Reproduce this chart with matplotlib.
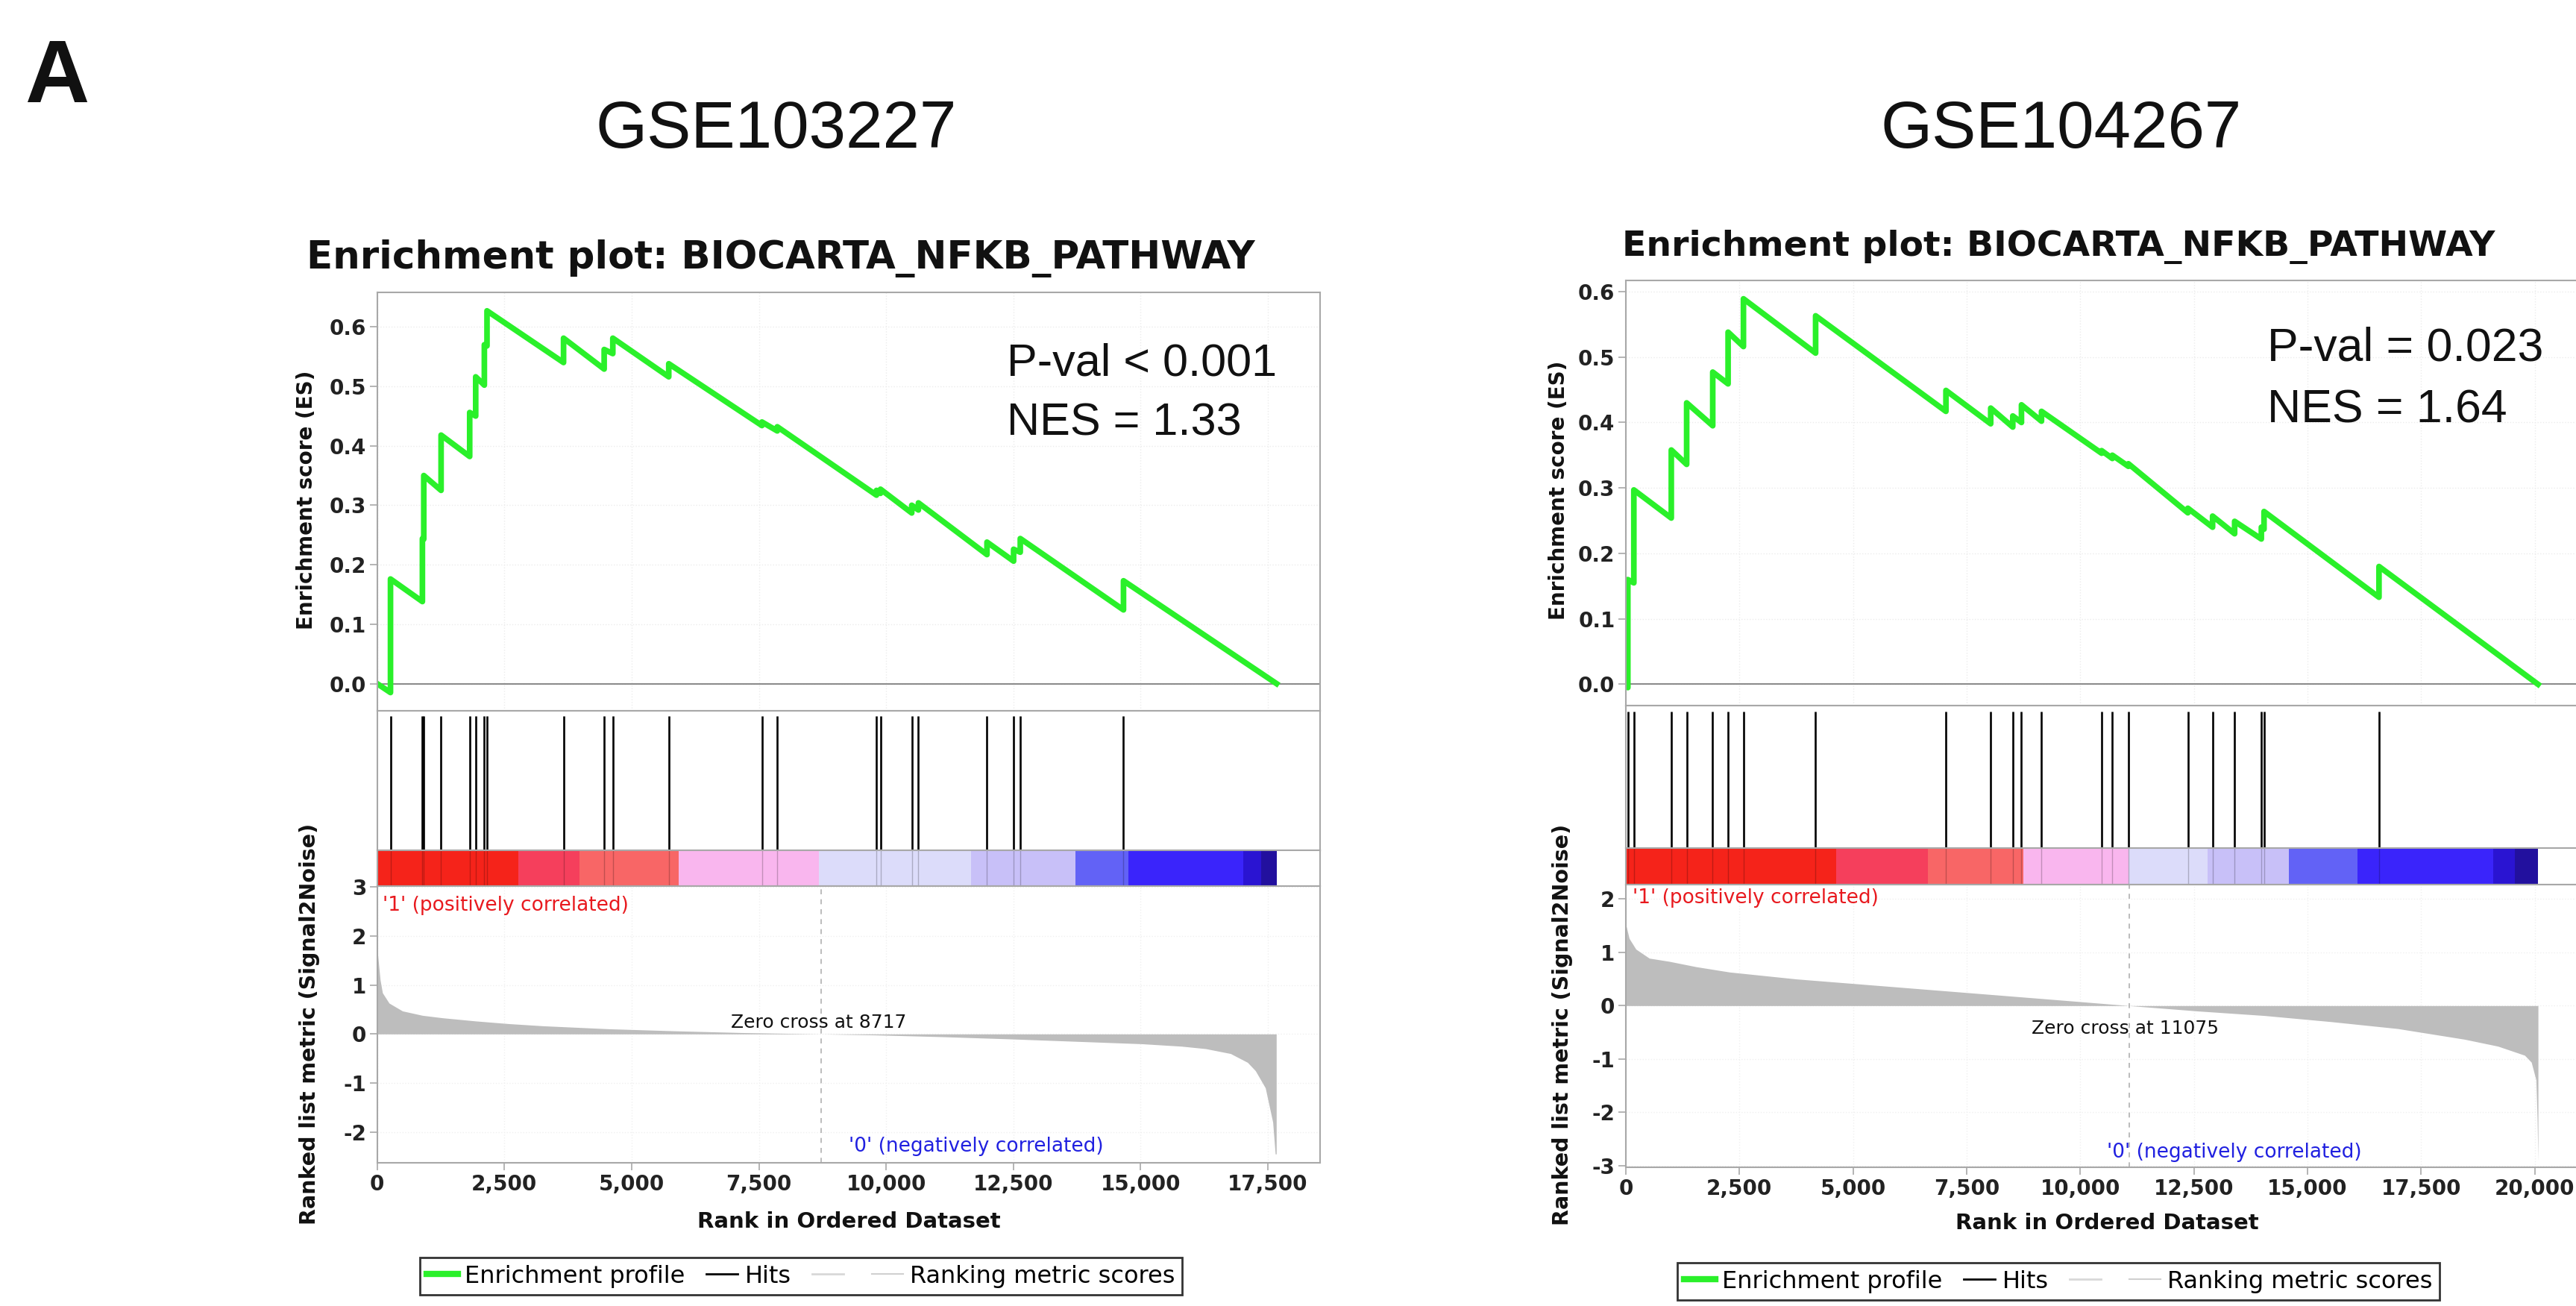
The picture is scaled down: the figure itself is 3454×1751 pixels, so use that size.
import numpy as np
import matplotlib
matplotlib.use("Agg")
import matplotlib.pyplot as plt
from matplotlib.lines import Line2D

W, H, DPI = 3455, 1751, 100

# ---------------- data ----------------
panel_titles = ["GSE103227", "GSE104267"]
plot_title = "Enrichment plot: BIOCARTA_NFKB_PATHWAY"
left_stats = ["P-val < 0.001", "NES = 1.33"]
right_stats = ["P-val = 0.023", "NES = 1.64"]
left_zero_cross = 8717
right_zero_cross = 11075

left_hits = [262, 889, 916, 1256, 1818, 1936, 2106, 2158, 3662, 4460, 4630, 5729,
             7560, 7861, 9810, 9889, 10503, 10634, 11981, 12504, 12635, 14663]
left_es_rank = [0, 262, 262, 889, 889, 916, 916, 1256, 1256, 1818, 1818, 1936, 1936,
                2106, 2106, 2158, 2158, 3662, 3662, 4460, 4460, 4630, 4630, 5729, 5729,
                7560, 7560, 7861, 7861, 9810, 9810, 9889, 9889, 10503, 10503, 10634, 10634,
                11981, 11981, 12504, 12504, 12635, 12635, 14663, 14663, 17670]
left_es_value = [0.0, -0.015, 0.176, 0.138, 0.244, 0.243, 0.350, 0.325, 0.418, 0.382, 0.456,
                 0.450, 0.516, 0.502, 0.570, 0.568, 0.627, 0.540, 0.581, 0.529, 0.562, 0.555,
                 0.581, 0.516, 0.538, 0.434, 0.440, 0.425, 0.432, 0.317, 0.325, 0.320, 0.327,
                 0.287, 0.300, 0.292, 0.304, 0.217, 0.238, 0.206, 0.226, 0.221, 0.244, 0.124,
                 0.173, 0.0]
left_metric_rank = [0, 60, 105, 235, 497, 889, 1282, 1936, 2590, 3244, 4552, 5860, 7168, 8717,
                    9784, 11092, 12400, 13708, 15016, 15800, 16278, 16766, 17100, 17255, 17450,
                    17596, 17645, 17665]
left_metric_value = [1.74, 1.10, 0.84, 0.63, 0.47, 0.38, 0.33, 0.265, 0.21, 0.167, 0.105, 0.063,
                     0.028, 0.0, -0.02, -0.056, -0.10, -0.15, -0.20, -0.25, -0.30, -0.40, -0.58,
                     -0.75, -1.10, -1.80, -2.45, -2.45]
left_bar_edges = [0, 2777, 3982, 5917, 8672, 11665, 13712, 14760, 17015, 17374, 17670]

right_hits = [44, 176, 1000, 1338, 1912, 2250, 2588, 4176, 7044, 8029, 8515, 8706, 9147,
              10470, 10706, 11059, 12368, 12912, 13397, 13985, 14044, 16574]
right_es_rank = [0, 44, 44, 176, 176, 1000, 1000, 1338, 1338, 1912, 1912, 2250, 2250, 2588,
                 2588, 4176, 4176, 7044, 7044, 8029, 8029, 8515, 8515, 8706, 8706, 9147, 9147,
                 10470, 10470, 10706, 10706, 11059, 11059, 12368, 12368, 12912, 12912, 13397,
                 13397, 13985, 13985, 14044, 14044, 16574, 16574, 20074]
right_es_value = [0.0, -0.005, 0.160, 0.155, 0.297, 0.254, 0.358, 0.336, 0.430, 0.395, 0.477,
                  0.459, 0.538, 0.516, 0.589, 0.506, 0.563, 0.417, 0.449, 0.398, 0.422, 0.393,
                  0.410, 0.400, 0.427, 0.402, 0.417, 0.353, 0.357, 0.345, 0.350, 0.333, 0.337,
                  0.262, 0.269, 0.240, 0.257, 0.230, 0.249, 0.222, 0.240, 0.237, 0.264, 0.133,
                  0.180, 0.0]
right_metric_rank = [0, 74, 221, 515, 956, 1544, 2279, 3750, 5221, 6691, 8162, 9632, 11075,
                     12574, 14044, 15515, 16985, 18456, 19191, 19779, 19926, 20029, 20055, 20074]
right_metric_value = [1.52, 1.26, 1.06, 0.89, 0.83, 0.73, 0.63, 0.50, 0.40, 0.30, 0.20, 0.10,
                      0.0, -0.10, -0.185, -0.30, -0.43, -0.63, -0.76, -0.93, -1.06, -1.39,
                      -2.10, -2.91]
right_bar_edges = [0, 4632, 6647, 8750, 11059, 12794, 14588, 16103, 19088, 19559, 20074]

bar_colors = ["#f5231a", "#f53f5c", "#f86666", "#f9b6ee", "#dcdcfa", "#c8c0f8",
              "#6262f6", "#3a24fb", "#2a14d2", "#22109e"]

left_xticks = [0, 2500, 5000, 7500, 10000, 12500, 15000, 17500]
right_xticks = [0, 2500, 5000, 7500, 10000, 12500, 15000, 17500, 20000]
es_yticks = [0.0, 0.1, 0.2, 0.3, 0.4, 0.5, 0.6]
left_metric_yticks = [-2, -1, 0, 1, 2, 3]
right_metric_yticks = [-3, -2, -1, 0, 1, 2]
legend_labels = ["Enrichment profile", "Hits", "", "Ranking metric scores"]

# ---------------- style ----------------
GREEN = "#2af02a"
SPINE = "#a8a8a8"
GRAYFILL = "#bdbdbd"
TICKFONT = dict(family="DejaVu Sans", weight="bold", size=20)

fig = plt.figure(figsize=(W / DPI, H / DPI), dpi=DPI)
fig.patch.set_facecolor("white")


def add_ax(x0, x1, y0, y1):
    return fig.add_axes([x0 / W, 1 - y1 / H, (x1 - x0) / W, (y1 - y0) / H])


def style(ax):
    for s in ax.spines.values():
        s.set_color(SPINE)
        s.set_linewidth(1.5)
    ax.tick_params(colors=SPINE, labelcolor="#222222", length=7, width=1.2)


def draw_panel(g):
    xmax = g["xmax"]
    # enrichment score
    ax = add_ax(g["x0"], g["x1"], g["es"][0], g["es"][1])
    style(ax)
    ax.plot(g["es_rank"], g["es_value"], color=GREEN, lw=5.5)
    ax.axhline(0, color="#8c8c8c", lw=1.5, zorder=1)
    ax.set_xlim(0, xmax)
    ax.set_ylim(*g["es_ylim"])
    ax.set_xticks(g["xticks"])
    ax.tick_params(axis="x", labelbottom=False, length=0)
    ax.set_yticks(es_yticks)
    ax.set_yticklabels([f"{v:.1f}" for v in es_yticks], fontdict=TICKFONT)
    ax.grid(True, color="#ececec", ls=":", lw=1)
    ax.set_axisbelow(True)
    for i, line in enumerate(g["stats"]):
        fig.text(g["stats_x"] / W, 1 - (g["stats_y"] + i * g["stats_dy"]) / H, line,
                 family="Liberation Sans", size=g["stats_size"], ha="left", va="baseline",
                 color="#111111")
    # hits
    ah = add_ax(g["x0"], g["x1"], g["es"][1], g["bar"][0])
    style(ah)
    ah.vlines(g["hits"], 0, 0.96, color="black", lw=1.9)
    ah.set_xlim(0, xmax)
    ah.set_ylim(0, 1)
    ah.set_xticks([])
    ah.set_yticks([])
    # colour bar
    ab = add_ax(g["x0"], g["x1"], g["bar"][0], g["bar"][1])
    style(ab)
    edges = np.array(g["bar_edges"])
    ab.bar(edges[:-1], 1, width=np.diff(edges), align="edge", color=bar_colors, lw=0)
    ab.vlines(g["hits"], 0, 1, color="black", lw=1.0, alpha=0.22)
    ab.set_xlim(0, xmax)
    ab.set_ylim(0, 1)
    ab.set_xticks([])
    ab.set_yticks([])
    # ranked list metric
    ar = add_ax(g["x0"], g["x1"], g["bar"][1], g["rank_bottom"])
    style(ar)
    ar.fill_between(g["m_rank"], 0, g["m_value"], color=GRAYFILL, lw=0)
    ar.axvline(g["zero"], color="#b0b0b0", ls=(0, (4, 4)), lw=1.2)
    ar.set_xlim(0, xmax)
    ar.set_ylim(*g["m_ylim"])
    ar.set_yticks(g["m_yticks"])
    ar.set_yticklabels([str(v) for v in g["m_yticks"]], fontdict=TICKFONT)
    ar.set_xticks(g["xticks"])
    ar.set_xticklabels([f"{v:,}" for v in g["xticks"]], fontdict=TICKFONT)
    ar.grid(True, color="#f0f0f0", ls=":", lw=1)
    ar.set_axisbelow(True)
    ar.text(g["pos_xy"][0], g["pos_xy"][1], "'1' (positively correlated)", color="#e8191e",
            size=19, ha="left", va="center")
    ar.text(g["neg_xy"][0], g["neg_xy"][1], "'0' (negatively correlated)", color="#2020e0",
            size=19, ha="left", va="center")
    ar.text(g["zc_xy"][0], g["zc_xy"][1], f"Zero cross at {g['zero']}", color="#111111",
            size=18, ha="center", va="center")
    # labels & titles
    fig.text(g["title_x"] / W, 1 - g["title_y"] / H, plot_title, family="DejaVu Sans",
             weight="bold", size=g["title_size"], ha="center", va="center", color="#111111")
    fig.text(g["esl_x"] / W, 1 - g["esl_y"] / H, "Enrichment score (ES)", family="DejaVu Sans",
             weight="bold", size=20, rotation=90, ha="center", va="center", color="#111111")
    fig.text(g["rl_x"] / W, 1 - g["rl_y"] / H, "Ranked list metric (Signal2Noise)",
             family="DejaVu Sans", weight="bold", size=20.5, rotation=90, ha="center",
             va="center", color="#111111")
    fig.text(g["xl_x"] / W, 1 - g["xl_y"] / H, "Rank in Ordered Dataset", family="DejaVu Sans",
             weight="bold", size=21, ha="center", va="center", color="#111111")
    fig.text(g["gse_x"] / W, 1 - g["gse_y"] / H, g["gse"], family="Liberation Sans",
             size=64, ha="center", va="baseline", color="#111111")
    # legend
    handles = [Line2D([], [], color=GREEN, lw=6), Line2D([], [], color="black", lw=2),
               Line2D([], [], color="#d8d8d8", lw=2), Line2D([], [], color="#d0d0d0", lw=1.5)]
    leg = fig.legend(handles, legend_labels, ncol=4, loc="center",
                     bbox_to_anchor=(g["leg_x"] / W, 1 - g["leg_y"] / H), frameon=True,
                     fancybox=False, edgecolor="black", prop=dict(family="DejaVu Sans", size=23),
                     handlelength=1.3, handletextpad=0.3, columnspacing=0.9, borderpad=0.3,
                     borderaxespad=0)
    leg.get_frame().set_linewidth(2.0)


left_geo = dict(
    x0=505.7, x1=1770, es=(392, 953), bar=(1140, 1188), rank_bottom=1559, xmax=18525,
    es_rank=left_es_rank, es_value=left_es_value, hits=left_hits, m_rank=left_metric_rank,
    m_value=left_metric_value, bar_edges=left_bar_edges, zero=left_zero_cross,
    xticks=left_xticks, es_ylim=(-0.0457, 0.658), m_ylim=(-2.63, 3.02),
    m_yticks=left_metric_yticks, stats=left_stats, stats_x=1350, stats_y=503, stats_dy=81,
    stats_size=44, pos_xy=(110, 2.62), neg_xy=(9260, -2.30), zc_xy=(8672, 0.23),
    title_x=1047, title_y=347, title_size=37, esl_x=411, esl_y=670, rl_x=415, rl_y=1373,
    xl_x=1138, xl_y=1638, gse="GSE103227", gse_x=1041, gse_y=198, leg_x=1074, leg_y=1711)

right_geo = dict(
    x0=2180, x1=3470, es=(376, 946), bar=(1137, 1186), rank_bottom=1565, xmax=21172,
    es_rank=right_es_rank, es_value=right_es_value, hits=right_hits, m_rank=right_metric_rank,
    m_value=right_metric_value, bar_edges=right_bar_edges, zero=right_zero_cross,
    xticks=right_xticks, es_ylim=(-0.0325, 0.617), m_ylim=(-3.03, 2.27),
    m_yticks=right_metric_yticks, stats=right_stats, stats_x=3040, stats_y=484, stats_dy=82,
    stats_size=45, pos_xy=(150, 2.02), neg_xy=(10590, -2.75), zc_xy=(10993, -0.43),
    title_x=2760, title_y=331, title_size=34, esl_x=2090, esl_y=657, rl_x=2095, rl_y=1374,
    xl_x=2825, xl_y=1640, gse="GSE104267", gse_x=2764, gse_y=198, leg_x=2760, leg_y=1718)

draw_panel(left_geo)
draw_panel(right_geo)

fig.text(33 / W, 1 - 137 / H, "A", family="Liberation Sans", weight="bold", size=86,
         ha="left", va="baseline", color="#111111")

fig.savefig("out.png", dpi=DPI, facecolor="white")
